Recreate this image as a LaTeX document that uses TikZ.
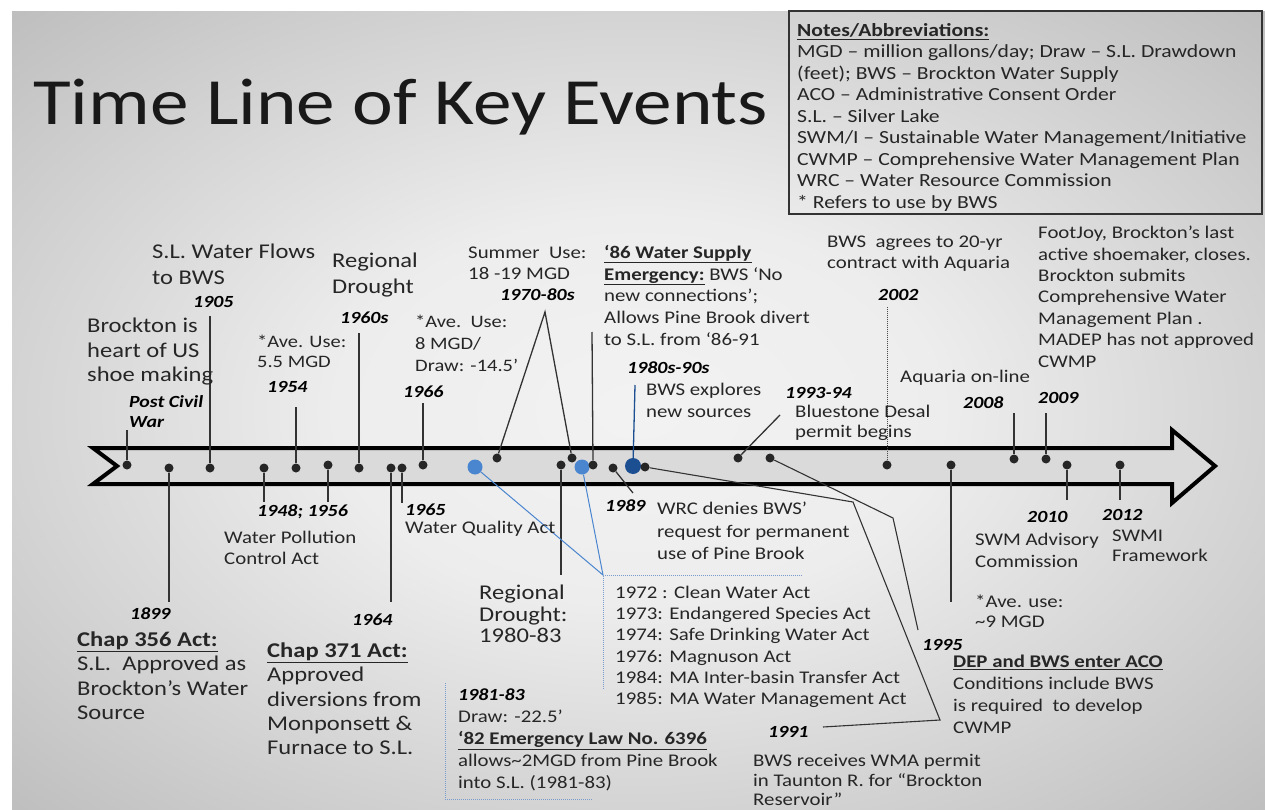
\documentclass[tikz,border=0pt]{standalone}
\usepackage{fontspec}
\setmainfont{Carlito}[FakeStretch=1.17]
\definecolor{txt}{HTML}{262626}
\definecolor{lblue}{HTML}{4A86CF}
\definecolor{dblue}{HTML}{1C4F91}
\definecolor{dotblue}{HTML}{7A9BD0}
\definecolor{bandfill}{HTML}{DADADA}
\pgfdeclareradialshading{slidebg}{\pgfpoint{0bp}{0bp}}{color(0bp)=(white!95!black); color(12bp)=(white!93!black); color(30bp)=(white!79!black); color(50bp)=(white!63!black); color(72bp)=(white!54!black)}
\newcommand\fs[2]{\fontsize{#1}{#2}\selectfont}
\newcommand\tl[1]{\begin{tabular}[t]{@{}l@{}}#1\end{tabular}}
\begin{document}
\begin{tikzpicture}[x=1pt,y=-1pt,
  dot/.style={circle,fill=black!85,inner sep=0pt,minimum size=9pt},
  bdot/.style={circle,fill=lblue,inner sep=0pt,minimum size=15pt},
  dbdot/.style={circle,fill=dblue,inner sep=0pt,minimum size=16pt},
  conn/.style={draw=black!80,line width=1.3pt},
  bconn/.style={draw=lblue,line width=1pt},
  dotline/.style={draw=dotblue,line width=1pt,densely dotted},
  tx/.style={anchor=base west,inner sep=0pt,text=txt},
  yr/.style={anchor=base west,inner sep=0pt,text=black,font=\fs{17}{20}\bfseries\itshape},
]
\useasboundingbox (0,0) rectangle (1265,810);
\fill[white] (0,0) rectangle (1265,810);
\shade[shading=slidebg] (12,12) rectangle (1265,810);
% notes box
\draw[black!80,line width=1.3pt] (789,11) rectangle (1262,214);
\node[tx,font=\fs{18.5}{21.5}] (notes) at (797,36.5) {\tl{\textbf{\underline{Notes/Abbreviations:}}\\MGD – million gallons/day; Draw – S.L. Drawdown\\(feet); BWS – Brockton Water Supply\\ACO – Administrative Consent Order\\S.L. – Silver Lake\\SWM/I – Sustainable Water Management/Initiative\\CWMP – Comprehensive Water Management Plan\\WRC – Water Resource Commission\\{*} Refers to use by BWS}};
% title
\node[anchor=base west,inner sep=0pt,font=\fs{66}{70},text=black!90] (title) at (33,125) {Time Line of Key Events};
% band arrow
\draw[line width=4pt,fill=bandfill,line join=miter] (93,448) -- (1172,448) -- (1172,430) -- (1215,466) -- (1172,503) -- (1172,484) -- (93,484) -- (117,466) -- cycle;
% dots
\node[dot] (d01) at (127,465) {};
\node[dot] (d02) at (169,468) {};
\node[dot] (d03) at (210,468) {};
\node[dot] (d04) at (264,468) {};
\node[dot] (d05) at (296,468) {};
\node[dot] (d06) at (328,465) {};
\node[dot] (d07) at (359,468) {};
\node[dot] (d08) at (391,468) {};
\node[dot] (d09) at (402,468) {};
\node[dot] (d10) at (423,465) {};
\node[bdot] (b1) at (475,467) {};
\node[dot] (d11) at (497,458) {};
\node[dot] (d12) at (561,465) {};
\node[dot] (d13) at (572,458) {};
\node[bdot] (b2) at (582,467) {};
\node[dot] (d14) at (593,465) {};
\node[dot] (d15) at (613,468) {};
\node[dbdot] (b3) at (633,466) {};
\node[dot] (d16) at (645,467) {};
\node[dot] (d17) at (738,458) {};
\node[dot] (d18) at (770,458) {};
\node[dot] (d19) at (887,465) {};
\node[dot] (d20) at (951,465) {};
\node[dot] (d21) at (1014,459) {};
\node[dot] (d22) at (1046,459) {};
\node[dot] (d23) at (1067,465) {};
\node[dot] (d24) at (1120,465) {};
% connector ends
\coordinate (e01) at (127,430);
\coordinate (e02) at (169,602);
\coordinate (e03) at (210,316);
\coordinate (e04) at (264,502);
\coordinate (e05) at (296,407);
\coordinate (e06) at (328,502);
\coordinate (e07) at (359,333);
\coordinate (e08) at (391,602);
\coordinate (e09) at (402,503);
\coordinate (e10) at (423,403);
\coordinate (apex) at (545,312);
\coordinate (e12) at (561,575);
\coordinate (e14) at (592,332);
\coordinate (e15) at (633,493);
\coordinate (eb3) at (635,385);
\coordinate (k1) at (853,502);
\coordinate (k2) at (940,720);
\coordinate (e16) at (823,727);
\coordinate (e17) at (780,415);
\coordinate (k3) at (893,518);
\coordinate (e18) at (918,630);
\coordinate (e19) at (887,307);
\coordinate (e20) at (951,602);
\coordinate (e21) at (1014,413);
\coordinate (e22) at (1046,413);
\coordinate (e23) at (1067,500);
\coordinate (e24) at (1120,500);
\coordinate (bx) at (603,575);
\coordinate (bxr) at (802,575);
\coordinate (bxb) at (603,690);
\coordinate (lx1) at (445,683);
\coordinate (lx2) at (445,799);
\coordinate (lx3) at (593,799);
% connectors
\foreach \a/\b in {d01/e01,d02/e02,d03/e03,d04/e04,d05/e05,d06/e06,d07/e07,d08/e08,d09/e09,d10/e10,d12/e12,d14/e14,d15/e15,d17/e17,d20/e20,d21/e21,d22/e22,d23/e23,d24/e24}
  \draw[conn] (\a) -- (\b);
\draw[conn] (d11) -- (apex) -- (d13);
\draw[conn,line width=1.1pt] (d16) -- (k1) -- (k2) -- (e16);
\draw[conn,line width=1.1pt] (d18) -- (k3) -- (e18);
\draw[draw=dblue,line width=1.3pt] (b3) -- (eb3);
\draw[draw=black!70,line width=1pt,densely dotted] (d19) -- (e19);
\draw[bconn] (b1) -- (bx);
\draw[bconn] (b2) -- (bx);
\draw[dotline] (bxr) -- (bx) -- (bxb);
\draw[dotline] (lx1) -- (lx2) -- (lx3);
% texts above
\node[tx,font=\fs{21}{26}] (slw) at (152,258.5) {\tl{S.L. Water Flows\\to BWS}};
\node[yr] (y1905) at (193,307.5) {1905};
\node[tx,font=\fs{21}{24.5}] (brk) at (87,332.5) {\tl{Brockton is\\heart of US\\shoe making}};
\node[tx,text=black,font=\fs{17}{20}\bfseries\itshape] (pcw) at (129,407.5) {\tl{Post Civil\\War}};
\node[tx,font=\fs{21}{26}] (rd1) at (332,267.5) {\tl{Regional\\Drought}};
\node[yr] (y1960) at (340,323.5) {1960s};
\node[tx,font=\fs{17.5}{20}] (ave1) at (257,347.5) {\tl{*Ave. Use:\\5.5 MGD}};
\node[yr] (y1954) at (267,392.5) {1954};
\node[tx,font=\fs{17.5}{22}] (ave2) at (415,327.5) {\tl{*Ave.\ \ Use:\\8 MGD/\\Draw: -14.5’}};
\node[yr] (y1966) at (403,397.5) {1966};
\node[tx,font=\fs{17.8}{20.5}] (sum) at (468,258.5) {\tl{Summer\ \ Use:\\18 -19 MGD}};
\node[yr] (y7080) at (500,300.5) {1970-80s};
\node[tx,font=\fs{17.8}{21.7}] (em86) at (604,258.5) {\tl{\textbf{\underline{‘86 Water Supply}}\\\textbf{\underline{Emergency:}} BWS ‘No\\new connections’;\\Allows Pine Brook divert\\to S.L. from ‘86-91}};
\node[yr] (y8090) at (627,373.5) {1980s-90s};
\node[tx,font=\fs{17.8}{22}] (expl) at (646,395.5) {\tl{BWS explores\\new sources}};
\node[yr] (y9394) at (785,398.5) {1993-94};
\node[tx,font=\fs{17.8}{20}] (blue) at (795,417.5) {\tl{Bluestone Desal\\permit begins}};
\node[tx,font=\fs{17.8}{21}] (aqu) at (827,247.5) {\tl{BWS\ \ agrees to 20-yr\\contract with Aquaria}};
\node[yr] (y2002) at (878,300.5) {2002};
\node[tx,font=\fs{17.8}{21.5}] (fj) at (1038,238.5) {\tl{FootJoy, Brockton’s last\\active shoemaker, closes.\\Brockton submits\\Comprehensive Water\\Management Plan .\\MADEP has not approved\\CWMP}};
\node[tx,font=\fs{17.8}{20}] (aon) at (900,382.5) {Aquaria on-line};
\node[yr] (y2008) at (963,408.5) {2008};
\node[yr] (y2009) at (1038,403.5) {2009};
% texts below
\node[yr] (y1899) at (130,619.5) {1899};
\node[tx,font=\fs{21}{24.3}] (ch356) at (77,646.5) {\tl{\textbf{\underline{Chap 356 Act:}}\\S.L.\ \ Approved as\\Brockton’s Water\\Source}};
\node[yr] (y4856) at (257,516.5) {1948; 1956};
\node[tx,font=\fs{17.8}{21}] (wpc) at (224,543.5) {\tl{Water Pollution\\Control Act}};
\node[yr] (y1964) at (352,625.5) {1964};
\node[tx,font=\fs{21}{24.3}] (ch371) at (267,657.5) {\tl{\textbf{\underline{Chap 371 Act:}}\\Approved\\diversions from\\Monponsett \&\\Furnace to S.L.}};
\node[yr] (y1965) at (405,515.5) {1965};
\node[tx,font=\fs{17.8}{20}] (wqa) at (405,533.5) {Water Quality Act};
\node[yr] (y1989) at (605,511.5) {1989};
\node[tx,font=\fs{17.8}{22.5}] (wrc) at (657,514.5) {\tl{WRC denies BWS’\\request for permanent\\use of Pine Brook}};
\node[tx,font=\fs{21}{21.5}] (rd2) at (479,599.5) {\tl{Regional\\Drought:\\1980-83}};
\node[tx,font=\fs{17.8}{21.2}] (acts) at (615,598.5) {\tl{1972 : Clean Water Act\\1973: Endangered Species Act\\1974: Safe Drinking Water Act\\1976: Magnuson Act\\1984: MA Inter-basin Transfer Act\\1985: MA Water Management Act}};
\node[yr] (y8183) at (458,700.5) {1981-83};
\node[tx,font=\fs{17.8}{22}] (law) at (458,722.5) {\tl{Draw: -22.5’\\\textbf{\underline{‘82 Emergency Law No. 6396}}\\allows\textasciitilde 2MGD from Pine Brook\\into S.L. (1981-83)}};
\node[yr] (y1991) at (768,737.5) {1991};
\node[tx,font=\fs{17.8}{19.5}] (wma) at (753,766.5) {\tl{BWS receives WMA permit\\in Taunton R. for “Brockton\\Reservoir”}};
\node[yr] (y1995) at (922,650.5) {1995};
\node[tx,font=\fs{17.8}{22}] (aco) at (953,667.5) {\tl{\textbf{\underline{DEP and BWS enter ACO}}\\Conditions include BWS\\is required\ \ to develop\\CWMP}};
\node[tx,font=\fs{17.8}{20}] (ave3) at (975,607.5) {\tl{*Ave. use:\\\textasciitilde 9 MGD}};
\node[yr] (y2010) at (1027,522.5) {2010};
\node[tx,font=\fs{17.8}{22}] (swm) at (975,545.5) {\tl{SWM Advisory\\Commission}};
\node[yr] (y2012) at (1102,520.5) {2012};
\node[tx,font=\fs{17.8}{20}] (swmi) at (1112,541.5) {\tl{SWMI\\Framework}};
\end{tikzpicture}
\end{document}
